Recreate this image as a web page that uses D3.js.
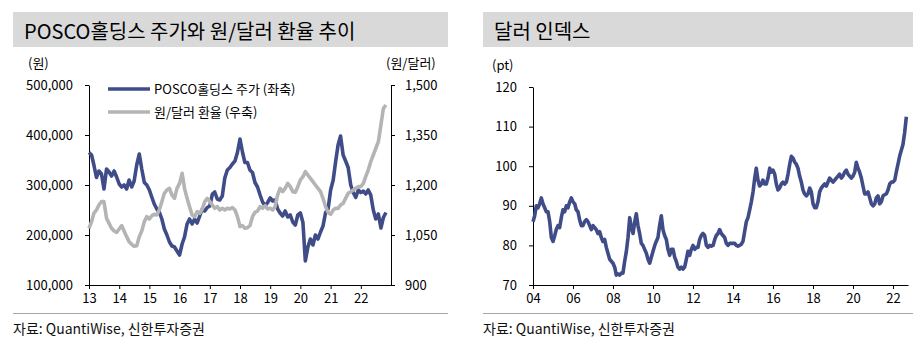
<!DOCTYPE html>
<html>
<head>
<meta charset="utf-8">
<script src="https://cdn.jsdelivr.net/npm/d3@7"></script>
<style>
  body { margin: 0; background: #fff; }
  svg { display: block; font-family: "Noto Sans CJK KR", "Noto Sans", sans-serif; }
</style>
</head>
<body>
<svg id="chart" width="920" height="352"></svg>
<script>
// 월별 값
const poscoStart = new Date(2013, 0, 1);
const poscoPrice = [
  365000, 360000, 340000, 315000, 328000, 322000, 292000, 332000, 326000, 318000, 328000, 316000,
  302000, 296000, 300000, 292000, 310000, 296000, 308000, 340000, 362000, 332000, 305000, 300000,
  290000, 275000, 262000, 252000, 246000, 232000, 212000, 200000, 186000, 178000, 176000, 168000,
  160000, 182000, 196000, 222000, 232000, 222000, 232000, 224000, 238000, 252000, 248000, 255000,
  258000, 282000, 286000, 272000, 270000, 278000, 314000, 330000, 335000, 342000, 348000, 365000,
  392000, 365000, 345000, 345000, 330000, 325000, 305000, 296000, 280000, 266000, 258000, 265000,
  274000, 268000, 270000, 252000, 244000, 238000, 248000, 236000, 240000, 226000, 220000, 240000,
  244000, 225000, 148000, 176000, 192000, 180000, 200000, 192000, 206000, 218000, 245000, 252000,
  290000, 310000, 345000, 380000, 398000, 360000, 348000, 335000, 300000, 285000, 275000, 290000,
  285000, 288000, 282000, 290000, 280000, 250000, 232000, 242000, 214000, 235000, 245000
];
const krwRate = [
  1070, 1090, 1115, 1125, 1140, 1150, 1150, 1100, 1085, 1070, 1062, 1058,
  1068, 1078, 1062, 1045, 1030, 1022, 1016, 1018, 1045, 1062, 1090, 1105,
  1098, 1108, 1112, 1110, 1125, 1150, 1175, 1185, 1190, 1170, 1160, 1190,
  1205, 1235, 1190, 1160, 1135, 1110, 1105, 1120, 1115, 1128, 1150, 1160,
  1150, 1140, 1130, 1135, 1125, 1130, 1125, 1130, 1128, 1132, 1125, 1105,
  1075, 1078, 1070, 1072, 1078, 1105, 1118, 1122, 1135, 1130, 1138, 1128,
  1130, 1125, 1135, 1170, 1190, 1180, 1190, 1205, 1195, 1180, 1178, 1195,
  1215, 1225, 1240, 1230, 1220, 1210, 1200, 1190, 1180, 1160, 1135, 1118,
  1112, 1125, 1130, 1130, 1140, 1145, 1160, 1175, 1180, 1185, 1190, 1195,
  1195, 1205, 1225, 1245, 1270, 1290, 1310, 1330, 1380, 1430, 1440
];
const dxyStart = new Date(2004, 0, 1);
const dxyIndex = [
  86, 87.5, 90, 89.5, 90.5, 92, 90.5, 89.5, 88.5, 88.5, 86, 82,
  81, 82.5, 84, 85, 84.5, 87, 89, 88.5, 90, 89.5, 91, 92,
  91, 90.5, 89, 88.5, 86.5, 85, 85, 86, 86.5, 86, 85, 84,
  85, 84.5, 84, 83, 83.5, 82, 81, 81.5, 79.5, 78, 76.5, 76,
  75.5, 74.5, 72.5, 72.8, 72.5, 73, 73, 76, 78.5, 82, 87, 84.5,
  83, 86, 88, 85, 83, 80.5, 80, 79, 78, 76.5, 75.5, 77,
  78.5, 80, 81, 82, 85, 87.5, 84, 82.5, 81.5, 79, 77.5, 79,
  79, 77, 76, 74.5, 74, 74.5, 74, 74.5, 76.5, 78.5, 77.5, 79,
  80, 79, 79.5, 79.5, 81.5, 82.5, 83, 82.5, 80, 79.5, 80, 79.8,
  80, 81.5, 82.5, 83, 84, 83, 82.5, 82, 80.5, 80, 80.5, 80.5,
  80.5, 80.5, 80, 79.8, 80, 80.3, 81, 83.5, 86, 87, 89, 91,
  93.5, 97, 99.5, 96.5, 95, 95.5, 96.5, 95.5, 95.5, 97, 99.5, 98.5,
  99, 98, 95.5, 94, 94.5, 95.5, 96, 95.5, 96, 98, 100.5, 102.5,
  102, 101, 100.5, 99.5, 97.5, 96, 94, 93, 92.5, 93, 94.5, 93.5,
  90.5, 89.5, 89.5, 91, 93.5, 94.5, 95, 95.5, 95, 96, 97, 96.5,
  96, 96.5, 97, 97.5, 98, 97, 97.5, 98.5, 99, 98, 97.5, 97,
  97.5, 98.5, 101, 99.5, 98.5, 97, 95, 93, 93, 93.5, 92, 90.5,
  90, 90.5, 92, 92.5, 90.5, 91, 92.5, 92.8, 93, 94, 95.5, 96,
  96, 96.5, 98.5, 100.5, 102.5, 104, 105.5, 108.5, 112.5
];

// 축 눈금
const poscoTicks = [100000, 200000, 300000, 400000, 500000];
const krwTicks = [900, 1050, 1200, 1350, 1500];
const poscoYears = d3.range(2013, 2023);
const dxyTicks = [70, 80, 90, 100, 110, 120];
const dxyYears = d3.range(2004, 2023, 2);

const BLUE = "#3f4c87";
const GREY = "#b4b4b4";
const LINE_W = 3.6;

const svg = d3.select("#chart");

function monthsFrom(start, n) {
  return d3.range(n).map(i => d3.timeMonth.offset(start, i));
}

// 패널 제목, 출처
function drawFrame(x0, width, title) {
  svg.append("rect")
      .attr("x", x0).attr("y", 12)
      .attr("width", width).attr("height", 35)
      .attr("fill", "#d9d9d9");
  svg.append("text")
      .attr("x", x0 + 11).attr("y", 39)
      .attr("font-size", 20)
      .attr("fill", "#000")
      .text(title);
  svg.append("line")
      .attr("x1", x0).attr("x2", x0 + width)
      .attr("y1", 313.5).attr("y2", 313.5)
      .attr("stroke", "#a6a6a6");
  svg.append("text")
      .attr("x", x0).attr("y", 334)
      .attr("font-size", 14)
      .attr("fill", "#111")
      .text("자료: QuantiWise, 신한투자증권");
}

function styleAxis(g) {
  g.selectAll("path, line").attr("stroke", "#000");
  g.selectAll("text").attr("font-size", 13).attr("fill", "#000")
      .attr("font-family", "\"Noto Sans CJK KR\", sans-serif");
}

function unitLabel(x, y, txt) {
  svg.append("text")
      .attr("x", x).attr("y", y)
      .attr("font-size", 13)
      .attr("fill", "#000")
      .text(txt);
}

// ---------- 왼쪽: POSCO홀딩스 주가와 원/달러 환율 ----------
drawFrame(13, 435, "POSCO홀딩스 주가와 원/달러 환율 추이");

const leftMonths = monthsFrom(poscoStart, poscoPrice.length);

const xLeft = d3.scaleTime()
    .domain([new Date(2013, 0, 1), new Date(2023, 0, 1)])
    .range([89, 391]);
const yPosco = d3.scaleLinear().domain([100000, 500000]).range([285, 85]);
const yKrw = d3.scaleLinear().domain([900, 1500]).range([285, 85]);

svg.append("g")
    .attr("transform", "translate(89,0)")
    .call(d3.axisLeft(yPosco).tickValues(poscoTicks).tickFormat(d3.format(","))
      .tickSize(4).tickSizeOuter(0).tickPadding(12))
    .call(styleAxis);

svg.append("g")
    .attr("transform", "translate(391,0)")
    .call(d3.axisRight(yKrw).tickValues(krwTicks).tickFormat(d3.format(","))
      .tickSize(4).tickSizeOuter(0).tickPadding(10))
    .call(styleAxis);

svg.append("g")
    .attr("transform", "translate(0,285)")
    .call(d3.axisBottom(xLeft).tickValues(poscoYears.map(y => new Date(y, 0, 1)))
      .tickFormat(d3.timeFormat("%y")).tickSize(4).tickSizeOuter(0).tickPadding(5))
    .call(styleAxis);

unitLabel(28, 68, "(원)");
unitLabel(386, 68, "(원/달러)");

const poscoLine = d3.line()
    .x((d, i) => xLeft(leftMonths[i]))
    .y(d => yPosco(d));
const krwLine = d3.line()
    .x((d, i) => xLeft(leftMonths[i]))
    .y(d => yKrw(d));

svg.append("path")
    .datum(poscoPrice)
    .attr("d", poscoLine)
    .attr("fill", "none")
    .attr("stroke", BLUE)
    .attr("stroke-width", LINE_W)
    .attr("stroke-linejoin", "round");

svg.append("path")
    .datum(krwRate)
    .attr("d", krwLine)
    .attr("fill", "none")
    .attr("stroke", GREY)
    .attr("stroke-width", LINE_W)
    .attr("stroke-linejoin", "round");

// 범례
const legendItems = [
  { label: "POSCO홀딩스 주가 (좌축)", color: BLUE },
  { label: "원/달러 환율 (우축)", color: GREY }
];
const legend = svg.selectAll(".legend")
    .data(legendItems)
  .enter().append("g")
    .attr("class", "legend")
    .attr("transform", (d, i) => `translate(108,${89 + i * 23})`);
legend.append("line")
    .attr("x1", 0).attr("x2", 42)
    .attr("stroke", d => d.color)
    .attr("stroke-width", LINE_W);
legend.append("text")
    .attr("x", 46).attr("y", 4.5)
    .attr("font-size", 13)
    .attr("fill", "#000")
    .text(d => d.label);

// ---------- 오른쪽: 달러 인덱스 ----------
drawFrame(483, 430, "달러 인덱스");

const dxyMonths = monthsFrom(dxyStart, dxyIndex.length);

const xRight = d3.scaleTime()
    .domain([new Date(2004, 0, 1), new Date(2022, 9, 1)])
    .range([533, 908]);
const yDxy = d3.scaleLinear().domain([70, 120]).range([285, 87]);

svg.append("g")
    .attr("transform", "translate(533,0)")
    .call(d3.axisLeft(yDxy).tickValues(dxyTicks)
      .tickSize(4).tickSizeOuter(0).tickPadding(12))
    .call(styleAxis);

svg.append("g")
    .attr("transform", "translate(0,285)")
    .call(d3.axisBottom(xRight).tickValues(dxyYears.map(y => new Date(y, 0, 1)))
      .tickFormat(d3.timeFormat("%y")).tickSize(4).tickSizeOuter(0).tickPadding(5))
    .call(styleAxis);

unitLabel(492, 70, "(pt)");

svg.append("path")
    .datum(dxyIndex)
    .attr("d", d3.line()
      .x((d, i) => xRight(dxyMonths[i]))
      .y(d => yDxy(d)))
    .attr("fill", "none")
    .attr("stroke", BLUE)
    .attr("stroke-width", LINE_W)
    .attr("stroke-linejoin", "round");
</script>
</body>
</html>
